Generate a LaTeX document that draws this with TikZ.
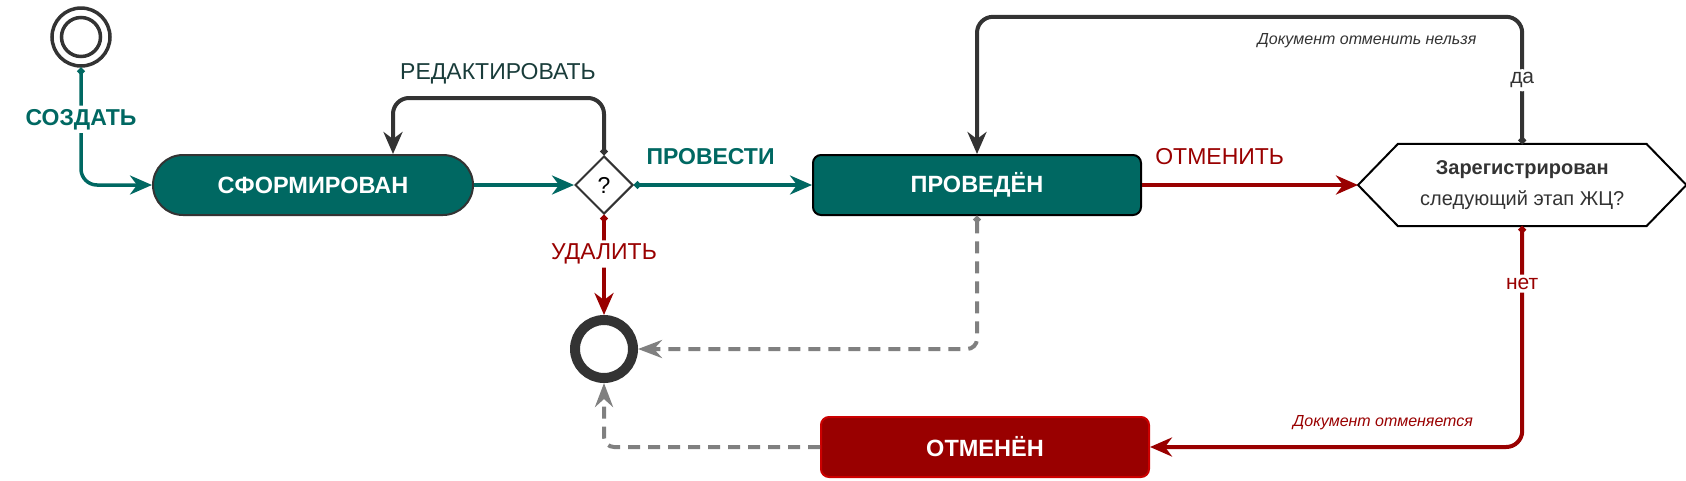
\documentclass[tikz,border=0pt]{standalone}
\usepackage{fontspec}
\setmainfont{Liberation Sans}
\usetikzlibrary{positioning,shapes.geometric,arrows.meta}

\definecolor{stateteal}{RGB}{0,104,98}
\definecolor{cancelred}{RGB}{153,0,0}
\definecolor{cancelborder}{RGB}{204,0,0}
\definecolor{darkline}{RGB}{51,51,51}
\definecolor{dashgray}{RGB}{128,128,128}
\definecolor{editcolor}{RGB}{25,60,58}

\begin{document}
\begin{tikzpicture}[x=1pt, y=-1pt,
    flowtip/.tip={Stealth[length=22pt,width=19pt,inset=7pt]},
    flowdot/.tip={Circle[length=7pt]},
    flow/.style={line width=3.5pt, rounded corners=16pt},
    dashed flow/.style={line width=4pt, draw=dashgray, dash pattern=on 12pt off 8pt, rounded corners=10pt},
    state/.style={draw, line width=2pt, minimum width=328pt, minimum height=60pt,
        text=white, font=\fontsize{23.5}{28}\selectfont\bfseries},
    big label/.style={font=\fontsize{23}{26}\selectfont},
    bold label/.style={font=\fontsize{23}{26}\selectfont\bfseries},
    mid label/.style={font=\fontsize{21}{24}\selectfont},
    small label/.style={font=\fontsize{16}{19}\selectfont\itshape},
]
    \useasboundingbox (0,0) rectangle (1686,480);

    % states
    \node[draw=darkline, line width=3.5pt, circle, minimum size=58pt, inner sep=0pt] (start point) at (81,37) {};
    \node[draw=darkline, line width=3.5pt, circle, minimum size=39pt, inner sep=0pt] (start inner) at (start point) {};

    \node[state, fill=stateteal, draw=darkline, minimum width=320pt, rounded corners=30pt] (formed state) at (313,185) {СФОРМИРОВАН};

    \node[diamond, draw=darkline, line width=2pt, minimum width=58pt, minimum height=58pt, inner sep=0pt,
        big label, right=100pt of formed state] (choice) {?};

    \node[state, fill=stateteal, draw=black, rounded corners=8pt, right=178pt of choice] (posted state) {ПРОВЕДЁН};

    \node[minimum width=328pt, minimum height=82pt, align=center, text=darkline,
        font=\fontsize{20}{31}\selectfont, right=216pt of posted state] (reg check)
        {\textbf{Зарегистрирован}\\следующий этап ЖЦ?};
    \draw[black, line width=2pt] (reg check.west) -- ([xshift=40pt]reg check.north west)
        -- ([xshift=-40pt]reg check.north east) -- (reg check.east)
        -- ([xshift=-40pt]reg check.south east) -- ([xshift=40pt]reg check.south west) -- cycle;

    \node[draw=darkline, line width=10pt, circle, minimum size=58pt, inner sep=0pt, below=100pt of choice] (end point) {};

    \node[state, fill=cancelred, draw=cancelborder, rounded corners=8pt, below=200pt of posted state, xshift=8pt] (cancelled state) {ОТМЕНЁН};

    % transitions
    \draw[flow, draw=stateteal, flowdot-flowtip] (start point.south) |-
        node[pos=0.22, fill=white, bold label, text=stateteal] (create label) {СОЗДАТЬ} (formed state.west);

    \draw[flow, draw=stateteal, -flowtip] (formed state.east) -- (choice.west);

    \draw[flow, draw=darkline, line width=4pt, flowdot-flowtip] (choice.north) -- ++(0,-57) -| ([xshift=80pt]formed state.north);
    \node[big label, text=editcolor] (edit label) at (498,74) {РЕДАКТИРОВАТЬ};

    \draw[flow, draw=stateteal, flowdot-flowtip] (choice.east) --
        node[pos=0.43, above=15pt, bold label, text=stateteal] (post label) {ПРОВЕСТИ} (posted state.west);

    \draw[flow, draw=cancelred, line width=4pt, flowdot-flowtip] (choice.south) --
        node[pos=0.39, fill=white, big label, text=cancelred] (delete label) {УДАЛИТЬ} (end point.north);

    \draw[flow, draw=cancelred, line width=4pt, -flowtip] (posted state.east) --
        node[pos=0, anchor=south west, xshift=8pt, yshift=15pt, big label, text=cancelred] (cancel label) {ОТМЕНИТЬ} (reg check.west);

    \draw[flow, draw=darkline, line width=4pt, flowdot-flowtip] (reg check.north) --
        node[fill=white, mid label, text=darkline] (yes label) {да} ++(0,-127) -| (posted state.north);
    \node[small label, text=darkline] (keep note) at (1367,41) {Документ отменить нельзя};

    \draw[flow, draw=cancelred, line width=4pt, flowdot-flowtip] (reg check.south) |-
        node[pos=0.13, fill=white, mid label, text=cancelred] (no label) {нет} (cancelled state.east);
    \node[small label, text=cancelred] (cancel note) at (1383,423) {Документ отменяется};

    \draw[dashed flow, flowdot-{Stealth[length=24pt,width=18pt,inset=8pt]}] (posted state.south) |- (end point.east);
    \draw[dashed flow, -{Stealth[length=24pt,width=18pt,inset=8pt]}] (cancelled state.west) -| (end point.south);
\end{tikzpicture}
\end{document}
